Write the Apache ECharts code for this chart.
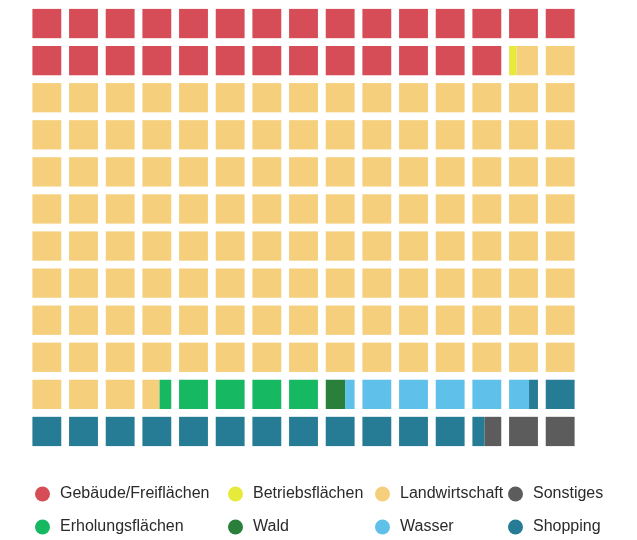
<!DOCTYPE html>
<html>
<head>
<meta charset="utf-8">
<style>
  html, body { margin: 0; padding: 0; background: #fff; }
  #chart { width: 637px; height: 540px; }
</style>
<script src="https://cdn.jsdelivr.net/npm/echarts@6/dist/echarts.min.js"></script>
</head>
<body>
<div id="chart"></div>
<script>
// area shares in percent, in the order the waffle is filled
const names = ['Gebäude/Freiflächen', 'Betriebsflächen', 'Landwirtschaft', 'Erholungsflächen', 'Wald', 'Wasser', 'Shopping', 'Sonstiges'];
const shares = [15.56, 0.14, 69.63, 2.45, 0.37, 2.79, 7.63, 1.43];
const colors = ['#d64d57', '#e6ea3a', '#f5cf7c', '#17b862', '#2a7f3a', '#5fc1ea', '#257c94', '#5c5c5c'];

// legend is laid out in 4 columns of 2
const legendCols = [
  ['Gebäude/Freiflächen', 'Erholungsflächen'],
  ['Betriebsflächen', 'Wald'],
  ['Landwirtschaft', 'Wasser'],
  ['Sonstiges', 'Shopping']
];
const legendLeft = [35, 228, 375, 508];

const COLS = 15;
const ROWS = 12;
const GAP = 7.8;

// split every share into pieces of cells (a cell may hold parts of two shares)
const total = shares.reduce((a, b) => a + b, 0);
let acc = 0;
const pieces = shares.map((v) => {
  const s = acc / total * COLS * ROWS;
  acc += v;
  const e = acc / total * COLS * ROWS;
  const out = [];
  for (let k = Math.floor(s); k < Math.ceil(e - 1e-9); k++) {
    const f0 = Math.max(s, k) - k;
    const f1 = Math.min(e, k + 1) - k;
    if (f1 - f0 > 1e-6) out.push([k % COLS, Math.floor(k / COLS), f0, f1]);
  }
  return out;
});

const renderCell = (params, api) => {
  const p = api.coord([api.value(0), api.value(1)]);
  const sz = api.size([1, 1]);
  const w = sz[0] - GAP;
  const h = sz[1] - GAP;
  const left = p[0] + GAP / 2;
  const top = p[1] + GAP / 2;
  const f0 = api.value(2);
  const f1 = api.value(3);
  return {
    type: 'rect',
    shape: { x: left + f0 * w, y: top, width: (f1 - f0) * w, height: h },
    style: { fill: api.visual('color') }
  };
};

const chart = echarts.init(document.getElementById('chart'));
chart.setOption({
  animation: false,
  grid: { left: 28.5, top: 5, width: 550, height: 445 },
  xAxis: { type: 'value', min: 0, max: COLS, show: false },
  yAxis: { type: 'value', min: 0, max: ROWS, inverse: true, show: false },
  legend: legendCols.map((col, i) => ({
    data: col,
    orient: 'vertical',
    left: legendLeft[i],
    top: 486,
    padding: 0,
    itemGap: 17,
    itemWidth: 15,
    itemHeight: 15,
    icon: 'circle',
    selectedMode: false,
    textStyle: {
      fontFamily: 'Liberation Sans, Arial, sans-serif',
      fontSize: 16,
      color: '#2a2a2a',
      padding: [0, 0, 0, 5]
    }
  })),
  series: names.map((name, i) => ({
    type: 'custom',
    name: name,
    coordinateSystem: 'cartesian2d',
    itemStyle: { color: colors[i] },
    encode: { x: 0, y: 1 },
    renderItem: renderCell,
    data: pieces[i]
  }))
});
</script>
</body>
</html>
